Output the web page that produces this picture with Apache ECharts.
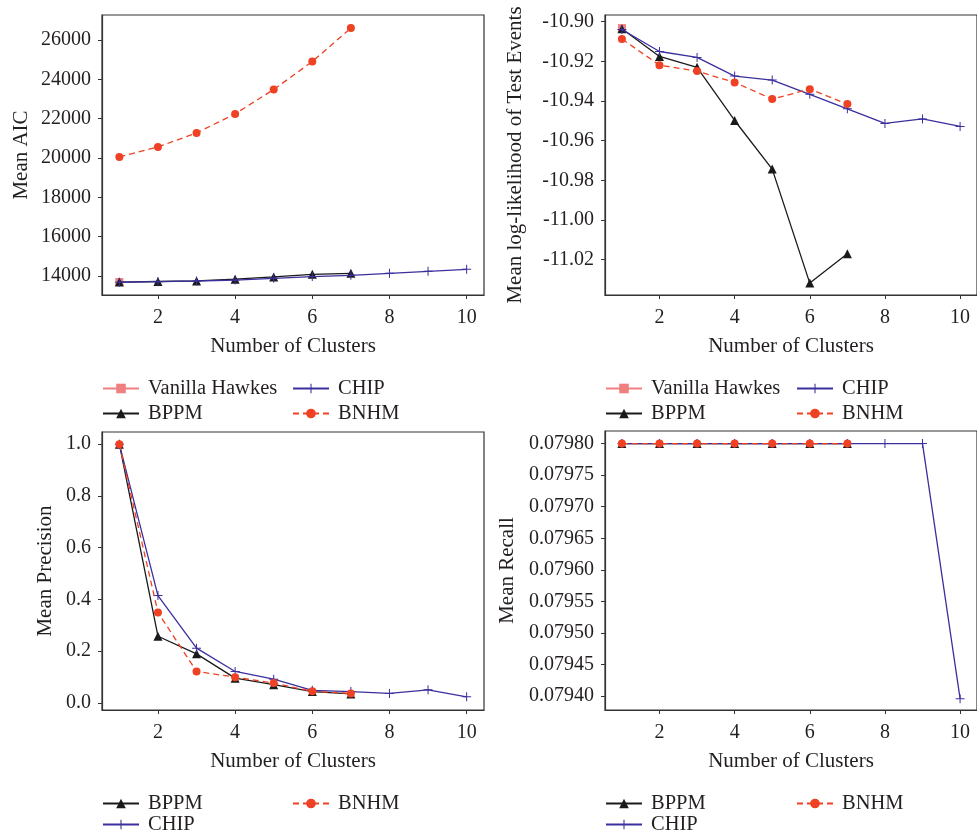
<!DOCTYPE html>
<html>
<head>
<meta charset="utf-8">
<script src="https://cdn.jsdelivr.net/npm/echarts@6/dist/echarts.min.js"></script>
<style>
  html, body { margin: 0; padding: 0; background: #fff; }
  #chart { width: 977px; height: 833px; }
</style>
</head>
<body>
<div id="chart"></div>
<script>
// Cluster counts (x values)
const clusters = [1, 2, 3, 4, 5, 6, 7, 8, 9, 10];
const xTicks = [2, 4, 6, 8, 10];

// Mean AIC
const aicVanilla = [13695];
const aicBPPM = [13690, 13720, 13750, 13835, 13950, 14085, 14137];
const aicCHIP = [13680, 13710, 13745, 13790, 13880, 13970, 14035, 14135, 14237, 14340];
const aicBNHM = [20050, 20560, 21270, 22240, 23480, 24900, 26600];
const aicTicks = [14000, 16000, 18000, 20000, 22000, 24000, 26000];

// Mean log-likelihood of test events
const llVanilla = [-10.9032];
const llBPPM = [-10.9035, -10.9175, -10.9230, -10.9498, -10.9743, -11.0318, -11.0170];
const llCHIP = [-10.9039, -10.9150, -10.9180, -10.9274, -10.9294, -10.9366, -10.9439, -10.9513, -10.9490, -10.9528];
const llBNHM = [-10.9087, -10.9219, -10.9249, -10.9306, -10.9390, -10.9340, -10.9415];
const llTicks = [-11.02, -11.00, -10.98, -10.96, -10.94, -10.92, -10.90];

// Mean precision
const precBPPM = [1.000, 0.258, 0.190, 0.096, 0.071, 0.044, 0.035];
const precCHIP = [1.000, 0.415, 0.212, 0.122, 0.092, 0.049, 0.044, 0.037, 0.051, 0.024];
const precBNHM = [1.000, 0.350, 0.122, 0.100, 0.077, 0.045, 0.037];
const precTicks = [0.0, 0.2, 0.4, 0.6, 0.8, 1.0];

// Mean recall
const recBPPM = [0.0798, 0.0798, 0.0798, 0.0798, 0.0798, 0.0798, 0.0798];
const recCHIP = [0.0798, 0.0798, 0.0798, 0.0798, 0.0798, 0.0798, 0.0798, 0.0798, 0.0798, 0.079396];
const recBNHM = [0.0798, 0.0798, 0.0798, 0.0798, 0.0798, 0.0798, 0.0798];
const recTicks = [0.07940, 0.07945, 0.07950, 0.07955, 0.07960, 0.07965, 0.07970, 0.07975, 0.07980];

const FONT = '"Liberation Serif", "DejaVu Serif", serif';
const TEXT = '#231f20';
const AXIS = '#333';
const TICK_FS = 20;
const NAME_FS = 21;
const LEGEND_FS = 20.5;

const styles = {
  'Vanilla Hawkes': { color: '#f08080', symbol: 'rect', size: 8, dash: 'solid' },
  'BPPM': { color: '#1a1a1a', symbol: 'triangle', size: 9, dash: 'solid' },
  'CHIP': { color: '#3b2f9e', symbol: 'path://M4,0 h1 v4 h4 v1 h-4 v4 h-1 v-4 h-4 v-1 h4 z', size: 9, dash: 'solid' },
  'BNHM': { color: '#ef4123', symbol: 'circle', size: 8, dash: [6, 4] }
};

const pairs = vals => vals.map((v, i) => [clusters[i], v]);

function line(name, vals, gi, z) {
  const s = styles[name];
  return {
    name, type: 'line', xAxisIndex: gi, yAxisIndex: gi, z,
    data: pairs(vals),
    symbol: s.symbol, symbolSize: s.size, showSymbol: true,
    itemStyle: { color: s.color },
    lineStyle: { color: s.color, width: 1.3, type: s.dash },
    animation: false, silent: true
  };
}

const grids = [
  { left: 102, top: 15, width: 382, height: 280 },
  { left: 605, top: 15, width: 381, height: 280 },
  { left: 102, top: 432, width: 382, height: 278 },
  { left: 605, top: 431, width: 381, height: 279 }
].map(g => Object.assign(g, { show: true, borderColor: AXIS, borderWidth: 1.2, backgroundColor: 'transparent' }));

function xAxis(gi) {
  return {
    type: 'value', gridIndex: gi, min: 0.55, max: 10.45,
    name: 'Number of Clusters', nameLocation: 'middle', nameGap: 41,
    nameTextStyle: { fontFamily: FONT, fontSize: NAME_FS, color: TEXT },
    axisLine: { show: true, onZero: false, lineStyle: { color: AXIS, width: 1.2 } },
    axisTick: { show: true, length: 4, customValues: xTicks, lineStyle: { color: AXIS } },
    axisLabel: { customValues: xTicks, margin: 13, fontFamily: FONT, fontSize: TICK_FS, color: TEXT },
    splitLine: { show: false }
  };
}

function yAxis(gi, name, min, max, ticks, digits, gap) {
  return {
    type: 'value', gridIndex: gi, min, max,
    name, nameLocation: 'middle', nameGap: gap, nameRotate: 90,
    nameTextStyle: { fontFamily: FONT, fontSize: NAME_FS, color: TEXT },
    axisLine: { show: true, onZero: false, lineStyle: { color: AXIS, width: 1.2 } },
    axisTick: { show: true, length: 4, customValues: ticks, lineStyle: { color: AXIS } },
    axisLabel: {
      customValues: ticks, margin: 11, fontFamily: FONT, fontSize: TICK_FS, color: TEXT,
      formatter: v => digits === 0 ? String(Math.round(v)) : v.toFixed(digits)
    },
    splitLine: { show: false }
  };
}

function legendItem(name, left, top) {
  return {
    data: [name], left, top, orient: 'horizontal', padding: 0,
    itemWidth: 36, itemHeight: 12, itemGap: 0,
    textStyle: { fontFamily: FONT, fontSize: LEGEND_FS, color: TEXT, padding: [0, 0, 0, 4] },
    selectedMode: false
  };
}

const legends = [
  // upper panels
  legendItem('Vanilla Hawkes', 102, 378), legendItem('CHIP', 292, 378),
  legendItem('BPPM', 102, 403), legendItem('BNHM', 292, 403),
  legendItem('Vanilla Hawkes', 605, 378), legendItem('CHIP', 796, 378),
  legendItem('BPPM', 605, 403), legendItem('BNHM', 796, 403),
  // lower panels
  legendItem('BPPM', 102, 793), legendItem('BNHM', 292, 793),
  legendItem('CHIP', 102, 814),
  legendItem('BPPM', 605, 793), legendItem('BNHM', 796, 793),
  legendItem('CHIP', 605, 814)
];

const option = {
  backgroundColor: '#fff',
  animation: false,
  grid: grids,
  xAxis: [xAxis(0), xAxis(1), xAxis(2), xAxis(3)],
  yAxis: [
    yAxis(0, 'Mean AIC', 13033, 27267, aicTicks, 0, 70),
    yAxis(1, 'Mean log-likelihood of Test Events', -11.0378, -10.8966, llTicks, 2, 79),
    yAxis(2, 'Mean Precision', -0.027, 1.047, precTicks, 1, 46),
    yAxis(3, 'Mean Recall', 0.079378, 0.07982, recTicks, 5, 87)
  ],
  legend: legends,
  series: [
    line('Vanilla Hawkes', aicVanilla, 0, 2),
    line('BPPM', aicBPPM, 0, 3),
    line('CHIP', aicCHIP, 0, 4),
    line('BNHM', aicBNHM, 0, 5),

    line('Vanilla Hawkes', llVanilla, 1, 2),
    line('BPPM', llBPPM, 1, 3),
    line('CHIP', llCHIP, 1, 4),
    line('BNHM', llBNHM, 1, 5),

    line('BPPM', precBPPM, 2, 3),
    line('CHIP', precCHIP, 2, 4),
    line('BNHM', precBNHM, 2, 5),

    line('BPPM', recBPPM, 3, 3),
    line('CHIP', recCHIP, 3, 4),
    line('BNHM', recBNHM, 3, 5)
  ]
};

const chart = echarts.init(document.getElementById('chart'), null, { renderer: 'canvas' });
chart.setOption(option);
</script>
</body>
</html>
